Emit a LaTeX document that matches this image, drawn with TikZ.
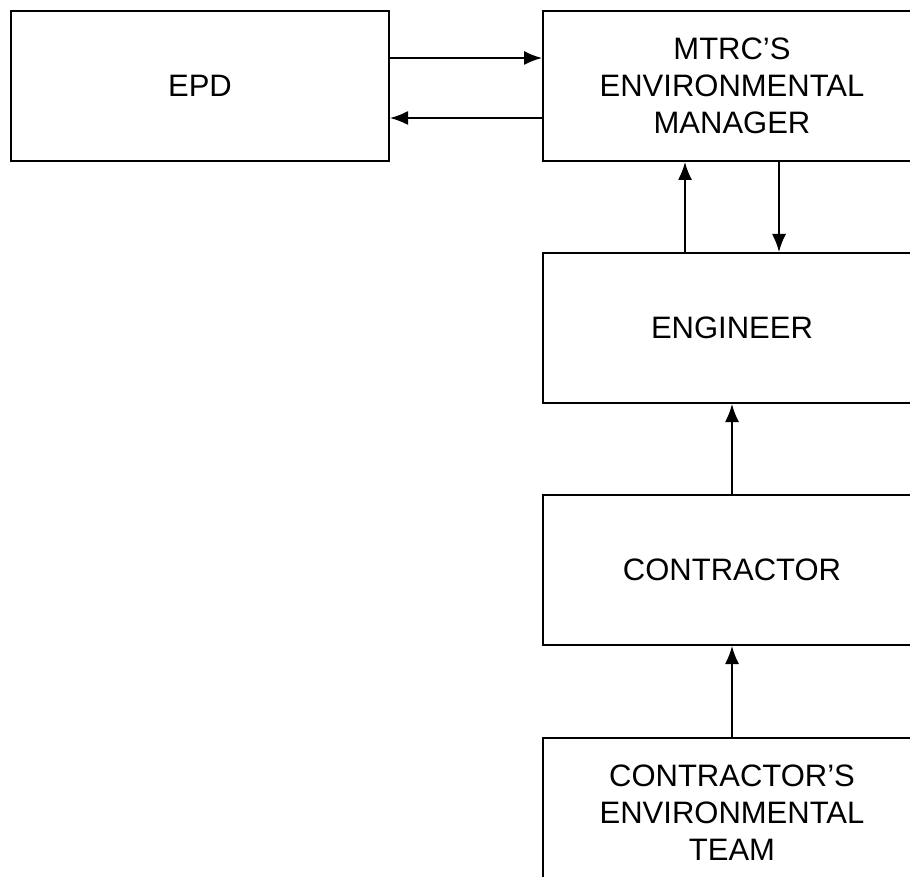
\documentclass[tikz,border=0pt]{standalone}
\usepackage{fontspec}
\setmainfont{Liberation Sans}
\usetikzlibrary{arrows.meta,positioning}

\begin{document}
\begin{tikzpicture}[>=Latex,node distance=90pt and 152pt]
    \tikzset{
      unit/.style={draw,line width=2pt,minimum width=378pt,minimum height=150pt,
                   align=center,inner sep=0pt,font=\fontsize{31}{37}\selectfont},
      flow/.style={-{Latex[length=18pt,width=14pt]},line width=1.6pt}
    }
    \useasboundingbox (0,0) rectangle (910pt,-877pt);
    \clip (0,0) rectangle (910pt,-877pt);
    \node[unit,anchor=north west] (epd) at (10pt,-10pt) {EPD};
    \node[unit,right=of epd] (manager) {MTRC'S\\ENVIRONMENTAL\\MANAGER};
    \node[unit,below=of manager] (engineer) {ENGINEER};
    \node[unit,below=of engineer] (contractor) {CONTRACTOR};
    \node[unit,below=91pt of contractor] (team) {CONTRACTOR'S\\ENVIRONMENTAL\\TEAM};
    \draw[flow] ([yshift=28pt]epd.east) -- ([yshift=28pt]manager.west);
    \draw[flow] ([yshift=-32pt]manager.west) -- ([yshift=-32pt]epd.east);
    \draw[flow] ([xshift=-47pt]engineer.north) -- ([xshift=-47pt]manager.south);
    \draw[flow] ([xshift=47pt]manager.south) -- ([xshift=47pt]engineer.north);
    \draw[flow] (contractor) -- (engineer);
    \draw[flow] (team) -- (contractor);
\end{tikzpicture}
\end{document}
